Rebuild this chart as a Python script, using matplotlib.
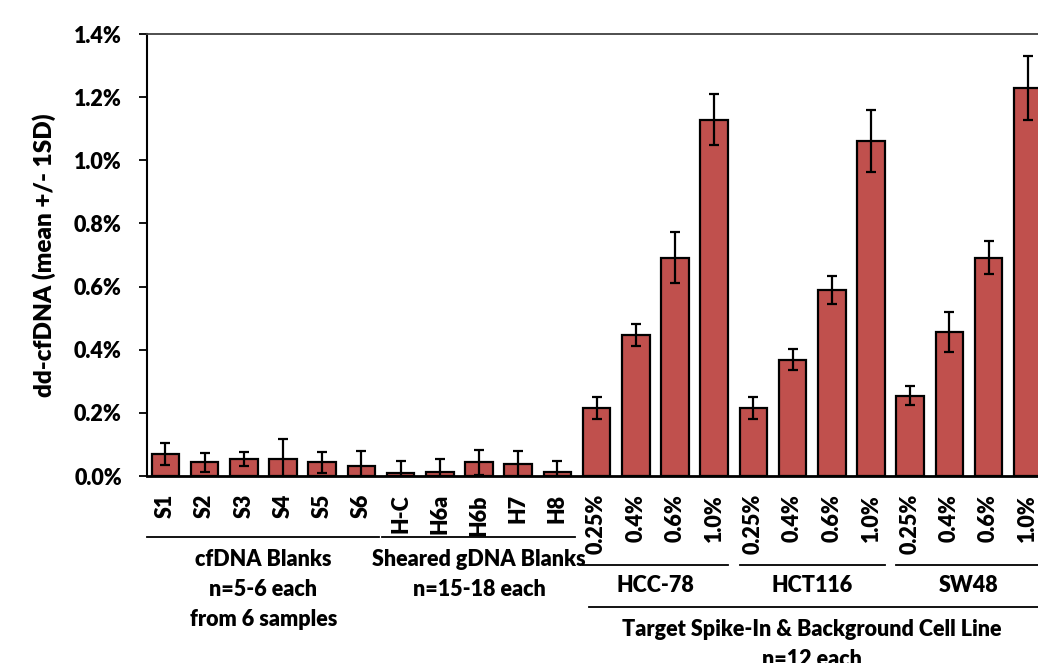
import matplotlib.pyplot as plt
import matplotlib.transforms as mtransforms

plt.rcParams['font.family'] = ['Lato', 'DejaVu Sans']
plt.rcParams['font.weight'] = 'heavy'

labels = ["S1", "S2", "S3", "S4", "S5", "S6",
          "H-C", "H6a", "H6b", "H7", "H8",
          "0.25%", "0.4%", "0.6%", "1.0%",
          "0.25%", "0.4%", "0.6%", "1.0%",
          "0.25%", "0.4%", "0.6%", "1.0%"]
means = [0.070, 0.043, 0.054, 0.054, 0.043, 0.033,
         0.011, 0.014, 0.043, 0.037, 0.014,
         0.215, 0.447, 0.692, 1.128,
         0.215, 0.369, 0.589, 1.061,
         0.255, 0.457, 0.692, 1.230]
sds = [0.036, 0.030, 0.022, 0.063, 0.033, 0.047,
       0.036, 0.040, 0.040, 0.043, 0.033,
       0.035, 0.034, 0.082, 0.081,
       0.035, 0.033, 0.044, 0.097,
       0.031, 0.063, 0.053, 0.101]

# group annotations: (first index, last index, text lines)
blank_groups = [(0, 5, ["cfDNA Blanks", "n=5-6 each", "from 6 samples"]),
                (6, 10, ["Sheared gDNA Blanks", "n=15-18 each"])]
cell_groups = [(11, 14, "HCC-78"), (15, 18, "HCT116"), (19, 22, "SW48")]
spike_title = ["Target Spike-In & Background Cell Line", "n=12 each"]

fig = plt.figure(figsize=(10.38, 6.63), dpi=100)
ax = fig.add_axes([0.1416, 0.282, 1 - 0.1416, 0.6667])

x = list(range(len(means)))
ax.bar(x, means, width=0.7, color="#C0504D", edgecolor="black", linewidth=1.6,
       yerr=sds, error_kw=dict(ecolor="black", elinewidth=1.6, capsize=3.5, capthick=1.6))

ax.set_xlim(-0.47, 22.26)
ax.set_ylim(0, 1.4)
ax.set_yticks([0, 0.2, 0.4, 0.6, 0.8, 1.0, 1.2, 1.4])
ax.set_yticklabels([f"{v:.1f}%" for v in ax.get_yticks()])
ax.set_xticks(x)
ax.set_xticklabels(labels, rotation=90, va="top", ha="center")
ax.tick_params(axis="y", length=6, width=1.3, pad=12, labelsize=15.5)
ax.tick_params(axis="x", length=0, pad=13, labelsize=15.5)
ax.set_ylabel("dd-cfDNA (mean +/- 1SD)", fontsize=17.5, fontweight="heavy", labelpad=13)

ax.spines["right"].set_visible(False)
ax.spines["top"].set_color("#404040")
ax.spines["top"].set_linewidth(1.3)
ax.spines["left"].set_linewidth(1.5)
ax.spines["bottom"].set_linewidth(2)

trans = mtransforms.blended_transform_factory(ax.transData, fig.transFigure)

def fy(py):
    return 1 - py / 663

for a, b, lines in blank_groups:
    ax.plot([a - 0.47, b + 0.45], [fy(537), fy(537)], color="black", lw=1.3,
            transform=trans, clip_on=False)
    for i, t in enumerate(lines):
        ax.text((a + b) / 2, fy(560 + 30 * i), t, transform=trans, ha="center",
                va="center", fontsize=15.5, fontweight="heavy")

for a, b, t in cell_groups:
    ax.plot([a - 0.35, b + 0.35], [fy(565), fy(565)], color="black", lw=1.3,
            transform=trans, clip_on=False)
    ax.text((a + b) / 2, fy(586), t, transform=trans, ha="center", va="center",
            fontsize=15.5, fontweight="heavy")

ax.plot([10.8, 22.4], [fy(607), fy(607)], color="black", lw=1.3,
        transform=trans, clip_on=False)
for i, t in enumerate(spike_title):
    ax.text(16.5, fy(629 + 30 * i), t, transform=trans, ha="center", va="center",
            fontsize=15.5, fontweight="heavy")

fig.savefig("out.png", dpi=100)
